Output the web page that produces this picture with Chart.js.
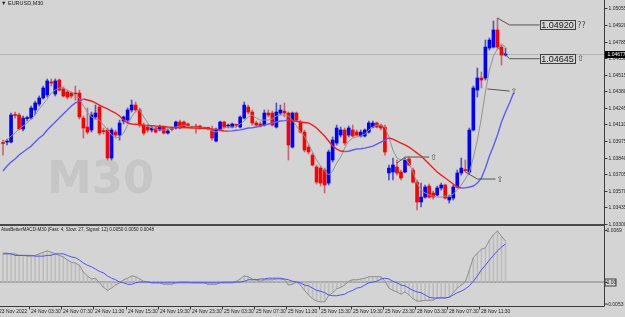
<!DOCTYPE html>
<html><head><meta charset="utf-8">
<script src="https://cdn.jsdelivr.net/npm/chart.js@4.4.0/dist/chart.umd.min.js"></script>
<style>
html,body{margin:0;padding:0;background:#d4d4d4;overflow:hidden;}
#wrap{position:relative;width:625px;height:317px;background:#d4d4d4;overflow:hidden;}
#main{position:absolute;left:0;top:0;}
#macd{position:absolute;left:0;top:224px;}
</style></head><body>
<div id="wrap"><canvas id="main" width="625" height="228"></canvas><canvas id="macd" width="625" height="93"></canvas></div>
<script>
// ---------- DATA ----------
const symbolTitle = '\u25BC EURUSD,M30';
const watermark = 'M30';
const macdTitle = 'AtasBetterMACD-M30 (Fast: 4, Slow: 27, Signal: 12) 0.0050 0.0050 0.0048';

const opens = [1.03959,1.03967,1.03967,1.04187,1.04187,1.04073,1.04158,1.04162,1.04228,1.04276,
 1.04325,1.04350,1.04456,1.04358,1.04472,1.04399,1.04374,1.04366,1.04366,1.04366,
 1.04162,1.04089,1.04065,1.04171,1.04252,1.04057,1.04065,1.03837,1.04048,1.04024,
 1.04138,1.04146,1.04228,1.04268,1.04228,1.04105,1.04089,1.04065,1.04081,1.04065,
 1.04089,1.04040,1.04073,1.04081,1.04130,1.04130,1.04114,1.04089,1.04097,1.04097,
 1.04081,1.04081,1.04065,1.03975,1.04065,1.04130,1.04097,1.04089,1.04105,1.04089,
 1.04162,1.04252,1.04211,1.04122,1.04114,1.04105,1.04203,1.04203,1.04089,1.04203,
 1.04219,1.04203,1.03926,1.04203,1.04130,1.04048,1.03926,1.03861,1.03764,1.03755,
 1.03739,1.03633,1.03821,1.03959,1.04024,1.04065,1.04024,1.04065,1.04048,1.04016,
 1.04016,1.04048,1.04089,1.04122,1.04105,1.04089,1.03715,1.03723,1.03764,1.03723,
 1.03723,1.03829,1.03739,1.03641,1.03479,1.03519,1.03609,1.03552,1.03536,1.03593,
 1.03617,1.03495,1.03511,1.03601,1.03715,1.03739,1.03723,1.04065,1.04390,1.04488,
 1.04488,1.04732,1.04740,1.04879,1.04740,1.04675];
const highs = [1.03983,1.03991,1.04203,1.04211,1.04203,1.04179,1.04179,1.04260,1.04301,1.04342,
 1.04423,1.04480,1.04480,1.04480,1.04480,1.04415,1.04390,1.04374,1.04423,1.04390,
 1.04179,1.04244,1.04211,1.04268,1.04268,1.04081,1.04081,1.04081,1.04065,1.04146,
 1.04179,1.04244,1.04309,1.04293,1.04244,1.04122,1.04105,1.04097,1.04089,1.04105,
 1.04097,1.04073,1.04089,1.04138,1.04146,1.04138,1.04122,1.04097,1.04114,1.04105,
 1.04089,1.04089,1.04097,1.04081,1.04138,1.04138,1.04114,1.04122,1.04114,1.04179,
 1.04293,1.04268,1.04228,1.04138,1.04130,1.04228,1.04228,1.04219,1.04285,1.04268,
 1.04285,1.04211,1.04211,1.04211,1.04146,1.04065,1.03943,1.03877,1.03780,1.03772,
 1.03755,1.03902,1.04008,1.04105,1.04089,1.04081,1.04097,1.04105,1.04065,1.04065,
 1.04073,1.04138,1.04138,1.04130,1.04114,1.04105,1.03780,1.03837,1.03821,1.03739,
 1.03837,1.03845,1.03755,1.03658,1.03633,1.03617,1.03625,1.03568,1.03609,1.03633,
 1.03625,1.03536,1.03617,1.03739,1.03837,1.03821,1.04081,1.04423,1.04569,1.04537,
 1.04797,1.04814,1.04952,1.04976,1.04757,1.04732];
const lows = [1.03861,1.03943,1.03959,1.04162,1.04065,1.04057,1.04138,1.04154,1.04187,1.04260,
 1.04317,1.04333,1.04423,1.04342,1.04382,1.04333,1.04317,1.04325,1.04309,1.04154,
 1.04000,1.04032,1.04048,1.04154,1.04024,1.04032,1.03821,1.03821,1.04008,1.03983,
 1.04114,1.04130,1.04211,1.04211,1.04089,1.04024,1.04048,1.04048,1.04040,1.04057,
 1.04032,1.04032,1.04057,1.04073,1.04073,1.04081,1.04089,1.04081,1.04040,1.04073,
 1.04073,1.04065,1.03983,1.03967,1.04057,1.04081,1.04081,1.04081,1.04089,1.04081,
 1.04154,1.04195,1.04105,1.04097,1.04089,1.04097,1.04171,1.04097,1.04081,1.04187,
 1.04171,1.03821,1.03918,1.04138,1.04040,1.03886,1.03869,1.03772,1.03625,1.03609,
 1.03552,1.03617,1.03804,1.03943,1.04008,1.03943,1.04008,1.04008,1.04016,1.04008,
 1.04008,1.04040,1.04081,1.04081,1.04065,1.03861,1.03658,1.03658,1.03698,1.03658,
 1.03715,1.03772,1.03633,1.03414,1.03438,1.03511,1.03511,1.03503,1.03527,1.03576,
 1.03503,1.03470,1.03495,1.03593,1.03698,1.03723,1.03707,1.04057,1.04333,1.04407,
 1.04472,1.04716,1.04732,1.04724,1.04594,1.04667];
const closes = [1.03955,1.03975,1.04187,1.04183,1.04073,1.04162,1.04160,1.04244,1.04285,1.04325,
 1.04407,1.04464,1.04447,1.04464,1.04390,1.04342,1.04333,1.04342,1.04358,1.04171,
 1.04081,1.04048,1.04187,1.04203,1.04040,1.04052,1.03837,1.04065,1.04024,1.04122,
 1.04171,1.04228,1.04268,1.04228,1.04105,1.04040,1.04065,1.04081,1.04048,1.04089,
 1.04040,1.04057,1.04070,1.04130,1.04081,1.04089,1.04097,1.04086,1.04089,1.04081,
 1.04079,1.04078,1.04000,1.04065,1.04130,1.04089,1.04105,1.04114,1.04103,1.04171,
 1.04268,1.04211,1.04122,1.04105,1.04097,1.04203,1.04187,1.04105,1.04211,1.04228,
 1.04203,1.03943,1.04203,1.04146,1.04048,1.03902,1.03886,1.03780,1.03641,1.03633,
 1.03617,1.03886,1.03983,1.04081,1.04065,1.03959,1.04081,1.04016,1.04024,1.04048,
 1.04065,1.04122,1.04122,1.04089,1.04081,1.03886,1.03755,1.03780,1.03715,1.03674,
 1.03821,1.03780,1.03641,1.03479,1.03519,1.03601,1.03519,1.03519,1.03593,1.03617,
 1.03511,1.03519,1.03601,1.03715,1.03755,1.03735,1.04065,1.04407,1.04488,1.04472,
 1.04740,1.04797,1.04879,1.04740,1.04675,1.04683];

// slow moving average (coloured by direction) and fast moving average
const maSlow = [1.03731,1.03772,1.03804,1.03829,1.03861,1.03886,1.03910,1.03934,1.03967,1.04000,
 1.04024,1.04065,1.04097,1.04130,1.04162,1.04195,1.04228,1.04260,1.04285,1.04301,
 1.04317,1.04309,1.04301,1.04285,1.04268,1.04252,1.04236,1.04219,1.04203,1.04179,
 1.04146,1.04122,1.04114,1.04112,1.04110,1.04105,1.04103,1.04101,1.04097,1.04095,
 1.04093,1.04089,1.04087,1.04086,1.04085,1.04084,1.04083,1.04081,1.04080,1.04079,
 1.04078,1.04077,1.04073,1.04071,1.04065,1.04057,1.04056,1.04058,1.04063,1.04066,
 1.04073,1.04081,1.04083,1.04089,1.04097,1.04105,1.04114,1.04122,1.04130,1.04138,
 1.04141,1.04146,1.04140,1.04136,1.04130,1.04126,1.04122,1.04105,1.04081,1.04048,
 1.04016,1.03975,1.03934,1.03910,1.03894,1.03890,1.03892,1.03902,1.03910,1.03912,
 1.03918,1.03926,1.03934,1.03951,1.03967,1.03983,1.04000,1.03991,1.03975,1.03959,
 1.03943,1.03926,1.03902,1.03877,1.03853,1.03821,1.03788,1.03755,1.03723,1.03698,
 1.03674,1.03650,1.03625,1.03601,1.03593,1.03594,1.03601,1.03609,1.03633,1.03674,
 1.03755,1.03853,1.03934,1.04024,1.04130,1.04211,1.04285,1.04366];
const maFast = [1.03967,1.03983,1.04016,1.04040,1.04073,1.04097,1.04122,1.04154,1.04187,1.04236,
 1.04276,1.04317,1.04366,1.04390,1.04407,1.04407,1.04390,1.04374,1.04350,1.04325,
 1.04260,1.04211,1.04171,1.04154,1.04146,1.04105,1.04065,1.04024,1.04000,1.04008,
 1.04040,1.04105,1.04171,1.04219,1.04228,1.04171,1.04122,1.04081,1.04073,1.04065,
 1.04065,1.04073,1.04081,1.04089,1.04097,1.04105,1.04097,1.04089,1.04089,1.04081,
 1.04081,1.04073,1.04057,1.04048,1.04065,1.04081,1.04089,1.04089,1.04089,1.04114,
 1.04138,1.04171,1.04187,1.04162,1.04146,1.04146,1.04146,1.04154,1.04179,1.04187,
 1.04187,1.04179,1.04146,1.04097,1.04048,1.04016,1.03951,1.03886,1.03821,1.03772,
 1.03731,1.03698,1.03731,1.03796,1.03845,1.03918,1.03975,1.04000,1.04008,1.04016,
 1.04032,1.04065,1.04089,1.04105,1.04105,1.04089,1.04008,1.03902,1.03837,1.03821,
 1.03829,1.03796,1.03723,1.03633,1.03576,1.03552,1.03536,1.03527,1.03519,1.03519,
 1.03527,1.03527,1.03544,1.03576,1.03617,1.03666,1.03723,1.03837,1.03983,1.04162,
 1.04374,1.04553,1.04667,1.04724,1.04765,1.04740];

// MACD panel
const macdMain = [0.0038,0.0038,0.0037,0.0037,0.0035,0.0035,0.0034,0.0034,0.0035,0.0037,
 0.0039,0.0041,0.0039,0.0037,0.0035,0.0033,0.0029,0.0026,0.0025,0.0022,
 0.0013,0.0008,0.0004,0.0005,-0.0001,-0.0007,-0.0011,-0.0008,-0.0004,-0.0001,
 0.0003,0.0005,0.0008,0.0007,0.0004,0.0001,0.0000,-0.0001,-0.0001,-0.0001,
 -0.0003,-0.0003,-0.0003,-0.0001,0.0000,0.0000,0.0000,-0.0001,-0.0001,-0.0001,
 -0.0001,-0.0003,-0.0003,-0.0003,-0.0001,0.0000,0.0000,0.0000,0.0001,0.0004,
 0.0008,0.0007,0.0004,0.0003,0.0001,0.0003,0.0003,0.0003,0.0004,0.0004,
 0.0003,-0.0004,-0.0003,0.0000,-0.0004,-0.0011,-0.0017,-0.0022,-0.0025,-0.0026,
 -0.0026,-0.0018,-0.0014,-0.0009,-0.0007,-0.0004,0.0001,0.0003,0.0003,0.0004,
 0.0005,0.0007,0.0007,0.0007,0.0007,0.0001,-0.0008,-0.0011,-0.0013,-0.0016,
 -0.0013,-0.0017,-0.0022,-0.0025,-0.0025,-0.0024,-0.0024,-0.0024,-0.0021,-0.0020,
 -0.0021,-0.0020,-0.0014,-0.0008,-0.0004,0.0000,0.0016,0.0032,0.0038,0.0043,
 0.0045,0.0055,0.0062,0.0067,0.0060,0.0054];
const macdSignal = [0.0037,0.0037,0.0037,0.0035,0.0035,0.0035,0.0035,0.0035,0.0034,0.0034,
 0.0034,0.0035,0.0035,0.0037,0.0037,0.0037,0.0035,0.0033,0.0032,0.0029,
 0.0025,0.0022,0.0020,0.0017,0.0014,0.0012,0.0008,0.0005,0.0003,0.0000,
 -0.0001,-0.0003,-0.0003,-0.0001,0.0000,0.0000,0.0000,-0.0001,-0.0001,-0.0001,
 -0.0001,-0.0001,-0.0001,-0.0001,-0.0001,-0.0001,-0.0001,-0.0001,-0.0001,-0.0001,
 -0.0001,-0.0001,-0.0001,-0.0001,-0.0001,-0.0001,-0.0001,-0.0001,0.0000,0.0000,
 0.0001,0.0003,0.0003,0.0003,0.0004,0.0004,0.0005,0.0005,0.0005,0.0005,
 0.0004,0.0003,0.0001,0.0000,-0.0001,-0.0004,-0.0005,-0.0008,-0.0011,-0.0012,
 -0.0014,-0.0017,-0.0018,-0.0018,-0.0017,-0.0016,-0.0013,-0.0011,-0.0008,-0.0007,
 -0.0004,-0.0001,0.0000,0.0001,0.0004,0.0005,0.0004,0.0001,-0.0001,-0.0004,
 -0.0005,-0.0008,-0.0011,-0.0013,-0.0014,-0.0017,-0.0020,-0.0021,-0.0021,-0.0021,
 -0.0021,-0.0020,-0.0017,-0.0014,-0.0012,-0.0009,-0.0005,0.0001,0.0008,0.0016,
 0.0022,0.0029,0.0035,0.0041,0.0046,0.0050];

// axis tick labels
const priceTickLabels = ['1.05055','1.04920','1.04785','1.04650','1.04515','1.04380','1.04245',
 '1.04110','1.03975','1.03840','1.03705','1.03570','1.03435','1.03300'];
const currentPriceLabel = '1.04677';
const macdTickLabels = ['0.0069','0.00','-0.0053'];
const timeTickLabels = ['23 Nov 2022','24 Nov 03:30','24 Nov 07:30','24 Nov 11:30','24 Nov 15:30',
 '24 Nov 19:30','24 Nov 23:30','25 Nov 03:30','25 Nov 07:30','25 Nov 11:30','25 Nov 15:30',
 '25 Nov 19:30','25 Nov 23:30','28 Nov 03:30','28 Nov 07:30','28 Nov 11:30'];
const tradingDays = ['24 Nov','25 Nov','28 Nov'];

// price-label objects on the chart: anchor points (bar, price), boxed text, marker
const levelMarks = [
 {pts:[[123,1.04976],[126,1.04920],[133.5,1.04920]], box:'1.04920', mark:'??'},
 {pts:[[123,1.04740],[126,1.04645],[133.5,1.04645]], box:'1.04645', mark:'\u21E7'},
 {pts:[[120.5,1.04399],[126,1.04382]], mark:'\u21E7'},
 {pts:[[115,1.03723],[118,1.03666],[122.5,1.03666]], mark:'\u21E7'},
 {pts:[[98,1.03796],[100,1.03845],[106,1.03845]], mark:'\u21E7'}
];

// ---------- BUILD ----------
const TOTAL_SLOTS = 150;
const barTimes = [];
tradingDays.forEach(d => { for (let h = 0; h < 24; h++) { ['00','30'].forEach(m => barTimes.push(d + ' ' + String(h).padStart(2,'0') + ':' + m)); } });
const nBars = opens.length;
const slots = [];
for (let i = 0; i < TOTAL_SLOTS; i++) slots.push(i < nBars ? barTimes[i] : '');

const UP = '#0000ff', DOWN = '#ff0000', FLAT = '#7a7a7a';
const bodyColors = opens.map((o,i) => closes[i] > o ? UP : (closes[i] < o ? DOWN : FLAT));
const wickColors = opens.map((o,i) => closes[i] > o ? 'rgba(40,40,190,0.75)' : (closes[i] < o ? 'rgba(190,60,60,0.7)' : 'rgba(90,90,90,0.8)'));
const wicks = lows.map((l,i) => [l, highs[i]]);
const bodies = opens.map((o,i) => [Math.min(o, closes[i]), Math.max(o, closes[i])]);

const FONT = '"Liberation Sans", Arial, sans-serif';
const AXIS = '#3a3a3a';
const TXT = '#262626';

const mainOverlay = {
  id: 'mainOverlay',
  beforeDatasetsDraw(chart) {
    const {ctx, chartArea: a, scales: {y}} = chart;
    ctx.save();
    ctx.fillStyle = '#c6c6c6';
    ctx.font = 'bold 45px "DejaVu Sans", sans-serif';
    ctx.textAlign = 'left'; ctx.textBaseline = 'alphabetic';
    ctx.fillText(watermark, 47, 193);
    const py = Math.round(y.getPixelForValue(closes[nBars-1])) + 0.5;
    ctx.strokeStyle = '#b4b4b4'; ctx.lineWidth = 1;
    ctx.beginPath(); ctx.moveTo(a.left - 1, py); ctx.lineTo(a.right, py); ctx.stroke();
    ctx.restore();
  },
  afterDatasetsDraw(chart) {
    const {ctx, chartArea: a, scales: {x, y}} = chart;
    ctx.save();
    // level marks
    ctx.strokeStyle = '#555555'; ctx.lineWidth = 1;
    levelMarks.forEach(m => {
      ctx.beginPath();
      m.pts.forEach((p,k) => { const px = x.getPixelForValue(p[0]); const pyy = y.getPixelForValue(p[1]); if (k === 0) ctx.moveTo(px, pyy); else ctx.lineTo(px, pyy); });
      ctx.stroke();
      const last = m.pts[m.pts.length - 1];
      let lx = x.getPixelForValue(last[0]); const ly = y.getPixelForValue(last[1]);
      ctx.textBaseline = 'middle'; ctx.textAlign = 'left';
      if (m.box) {
        ctx.font = '9px ' + FONT;
        const w = ctx.measureText(m.box).width + 2;
        ctx.strokeStyle = '#404040';
        ctx.strokeRect(Math.round(lx) + 0.5, Math.round(ly) - 4.5, Math.round(w), 9);
        ctx.fillStyle = '#202020';
        ctx.fillText(m.box, lx + 1.5, ly + 0.5);
        lx += w + 2;
        ctx.strokeStyle = '#555555';
      }
      ctx.fillStyle = '#505050';
      ctx.font = '8px "DejaVu Sans", sans-serif';
      ctx.fillText(m.mark, lx + 1, ly + 0.5);
    });
    // right axis
    const ax = Math.round(a.right) + 0.5;
    ctx.strokeStyle = AXIS; ctx.lineWidth = 1;
    ctx.beginPath(); ctx.moveTo(ax, 0); ctx.lineTo(ax, a.bottom); ctx.stroke();
    ctx.font = '5px ' + FONT; ctx.textAlign = 'left'; ctx.textBaseline = 'middle';
    priceTickLabels.forEach(t => {
      const ty = Math.round(y.getPixelForValue(parseFloat(t))) + 0.5;
      ctx.strokeStyle = AXIS;
      ctx.beginPath(); ctx.moveTo(ax, ty); ctx.lineTo(ax + 3, ty); ctx.stroke();
      ctx.fillStyle = TXT; ctx.fillText(t, ax + 4, ty);
    });
    // current price box
    const cy = y.getPixelForValue(closes[nBars-1]);
    ctx.fillStyle = '#000000';
    ctx.fillRect(ax + 0.5, Math.round(cy) - 3, 21, 7);
    ctx.fillStyle = '#ffffff';
    ctx.fillText(currentPriceLabel, ax + 3, Math.round(cy) + 0.5);
    // symbol title
    ctx.fillStyle = '#202020'; ctx.font = '5.5px ' + FONT; ctx.textBaseline = 'middle';
    ctx.fillText(symbolTitle, 1, 3.5);
    ctx.restore();
  }
};

const mainChart = new Chart(document.getElementById('main'), {
  type: 'bar',
  data: { labels: slots, datasets: [
    { type: 'line', data: maSlow, borderWidth: 1.4, pointRadius: 0, tension: 0, order: 1,
      borderColor: '#ff1a1a',
      segment: { borderColor: c => (c.p1.parsed.y >= c.p0.parsed.y ? '#5c5cff' : '#ff1a1a') } },
    { type: 'line', data: maFast, borderColor: '#939393', borderWidth: 1, pointRadius: 0, tension: 0, order: 2 },
    { data: bodies, backgroundColor: bodyColors, barThickness: 3, grouped: false, minBarLength: 1, order: 3 },
    { data: wicks, backgroundColor: wickColors, barThickness: 1, grouped: false, order: 4 }
  ]},
  options: {
    responsive: false, animation: false, events: [],
    layout: { padding: { left: 1, right: 21, top: 0, bottom: 4 } },
    plugins: { legend: { display: false }, tooltip: { enabled: false } },
    scales: {
      x: { display: false, offset: true },
      y: { display: false, min: 1.03300, max: 1.05123 }
    }
  },
  plugins: [mainOverlay]
});

const macdOverlay = {
  id: 'macdOverlay',
  beforeDatasetsDraw(chart) {
    const {ctx, chartArea: a, scales: {y}} = chart;
    ctx.save();
    const zy = Math.round(y.getPixelForValue(0));
    ctx.fillStyle = '#a9a9a9';
    ctx.fillRect(a.left - 1, zy - 1, a.right - a.left + 1, 2);
    ctx.restore();
  },
  afterDatasetsDraw(chart) {
    const {ctx, chartArea: a, scales: {x, y}} = chart;
    ctx.save();
    // separator between panels
    ctx.fillStyle = '#4a4a4a';
    ctx.fillRect(0, 0, a.right, 2);
    // right axis + bottom axis
    const ax = Math.round(a.right) + 0.5;
    const by = Math.round(a.bottom) + 0.5;
    ctx.strokeStyle = AXIS; ctx.lineWidth = 1;
    ctx.beginPath(); ctx.moveTo(ax, 0); ctx.lineTo(ax, by); ctx.lineTo(0, by); ctx.stroke();
    // title
    ctx.fillStyle = '#202020'; ctx.font = '4.6px ' + FONT; ctx.textAlign = 'left'; ctx.textBaseline = 'middle';
    ctx.fillText(macdTitle, 1, 6);
    // right labels
    ctx.font = '5px ' + FONT;
    const vals = [0.0069, 0, y.min];
    macdTickLabels.forEach((t,k) => {
      let ty = Math.round(y.getPixelForValue(vals[k])) + 0.5;
      if (k === 2) ty = a.bottom - 2;
      ctx.beginPath(); ctx.moveTo(ax, ty); ctx.lineTo(ax + 3, ty); ctx.stroke();
      if (k === 1) {
        ctx.strokeStyle = '#404040';
        ctx.strokeRect(ax + 0.5, ty - 3.5, 11, 7);
        ctx.strokeStyle = AXIS;
      }
      ctx.fillStyle = TXT; ctx.fillText(t, ax + 2, ty + 0.5);
    });
    // time labels
    ctx.font = '5px ' + FONT; ctx.textBaseline = 'middle';
    timeTickLabels.forEach(t => {
      const idx = barTimes.indexOf(t);
      const px = Math.round(x.getPixelForValue(idx)) - 1.5;
      ctx.beginPath(); ctx.moveTo(px, by); ctx.lineTo(px, by + 3); ctx.stroke();
      ctx.fillStyle = TXT; ctx.fillText(t, px + 1.5, by + 5.5);
    });
    ctx.restore();
  }
};

const macdChart = new Chart(document.getElementById('macd'), {
  type: 'bar',
  data: { labels: slots, datasets: [
    { type: 'line', data: macdSignal, borderColor: '#5050ff', borderWidth: 1, pointRadius: 0, tension: 0, order: 1 },
    { type: 'line', data: macdMain, borderColor: '#8e8e8e', borderWidth: 1, pointRadius: 0, tension: 0, order: 2 },
    { data: macdMain, backgroundColor: '#bdbdbd', barThickness: 1, grouped: false, order: 3 }
  ]},
  options: {
    responsive: false, animation: false, events: [],
    layout: { padding: { left: 1, right: 21, top: 2, bottom: 11 } },
    plugins: { legend: { display: false }, tooltip: { enabled: false } },
    scales: {
      x: { display: false, offset: true },
      y: { display: false, min: -0.00315, max: 0.00736 }
    }
  },
  plugins: [macdOverlay]
});
</script>
</body></html>
